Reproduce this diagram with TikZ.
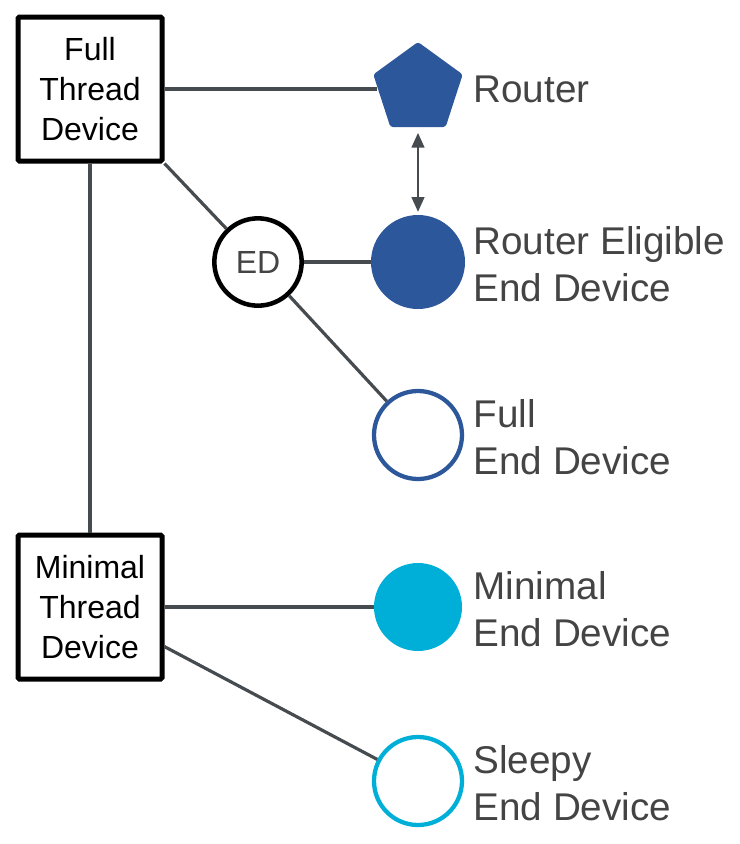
\documentclass[tikz,border=0pt]{standalone}
\usepackage{fontspec}
\setmainfont{Liberation Sans}
\usetikzlibrary{shapes.geometric,arrows.meta}

\definecolor{threadblue}{RGB}{44,87,154}
\definecolor{threadcyan}{RGB}{0,175,215}
\definecolor{linegrey}{RGB}{70,75,80}
\definecolor{textgrey}{RGB}{68,68,68}

\tikzset{every picture/.style={line width=0.75pt}}
\tikzset{
  devbox/.style={draw=black, line width=3.75pt, rounded corners=1pt, minimum size=108pt, inner sep=0pt, align=center, font=\fontsize{24}{30}\selectfont},
  devlabel/.style={anchor=west, align=left, text=textgrey, inner sep=0pt, font=\fontsize{29}{35}\selectfont},
  link/.style={draw=linegrey, line width=2.4pt},
}

\begin{document}
\begin{tikzpicture}[x=0.75pt,y=0.75pt,yscale=-1,xscale=1]
	\useasboundingbox (0,0) rectangle (740,844);

	%Shape: Rectangle [Full Thread Device]
	\node [devbox] (ftd) at (90,89) {Full\\Thread\\Device};
	%Shape: Rectangle [Minimal Thread Device]
	\node [devbox] (mtd) at (90,607) {Minimal\\Thread\\Device};
	%Shape: Pentagon [Router]
	\node [regular polygon, regular polygon sides=5, fill=threadblue, rounded corners=2pt, minimum size=70.5pt, inner sep=0pt] (router) at (418,89) {};
	%Shape: Circle [ED]
	\node [circle, draw=black, line width=3.4pt, fill=white, minimum size=65.5pt, inner sep=0pt, text=textgrey, font=\fontsize{24}{28}\selectfont] (ed) at (258,262) {ED};
	%Shape: Circle [Router Eligible End Device]
	\node [circle, fill=threadblue, minimum size=70.5pt, inner sep=0pt] (reed) at (418,262) {};
	%Shape: Circle [Full End Device]
	\node [circle, draw=threadblue, line width=3.2pt, minimum size=66pt, inner sep=0pt] (fed) at (418,435) {};
	%Shape: Circle [Minimal End Device]
	\node [circle, fill=threadcyan, minimum size=66pt, inner sep=0pt] (med) at (418,607) {};
	%Shape: Circle [Sleepy End Device]
	\node [circle, draw=threadcyan, line width=3.2pt, minimum size=66pt, inner sep=0pt] (sed) at (418,781) {};

	%Straight Lines
	\draw [link] (ftd.east) -- (router);
	\draw [link] (ftd.south east) -- (ed);
	\draw [link] (ftd.south) -- (mtd.north);
	\draw [link] (ed) -- (reed);
	\draw [link] (ed) -- (fed);
	\draw [link] (mtd.east) -- (med);
	\draw [link] (mtd.-28.5) -- (sed);
	%Double Arrow
	\draw [draw=linegrey, line width=1.5pt, {Triangle[length=11pt,width=9.5pt]}-{Triangle[length=11pt,width=9.5pt]}, shorten <=4pt, shorten >=2pt] (router.south) -- (reed.north);

	% Text Node
	\node [devlabel] (routerlbl) at (473,89) {Router};
	% Text Node
	\node [devlabel] (reedlbl) at (473,264) {Router Eligible\\End Device};
	% Text Node
	\node [devlabel] (fedlbl) at (473,437) {Full\\End Device};
	% Text Node
	\node [devlabel] (medlbl) at (473,609) {Minimal\\End Device};
	% Text Node
	\node [devlabel] (sedlbl) at (473,783) {Sleepy\\End Device};

\end{tikzpicture}
\end{document}
